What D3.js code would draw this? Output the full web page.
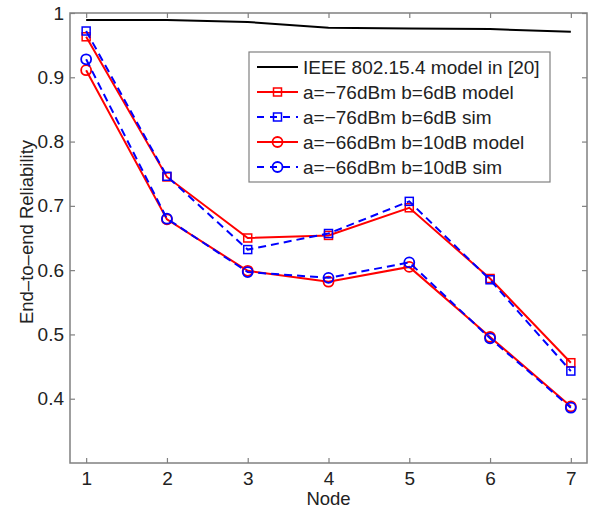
<!DOCTYPE html>
<html><head><meta charset="utf-8">
<script src="https://cdn.jsdelivr.net/npm/d3@7"></script>
<style>body{margin:0;background:#fff}svg{display:block}text{font-family:"Liberation Sans",Arial,Helvetica,sans-serif;fill:#222}</style>
</head><body>
<script>
const nodes = [1,2,3,4,5,6,7];
const ieee = [0.989,0.989,0.986,0.977,0.976,0.975,0.971];
const m76model = [0.963,0.745,0.650,0.654,0.697,0.587,0.456];
const m76sim   = [0.972,0.746,0.632,0.657,0.707,0.585,0.443];
const m66model = [0.911,0.679,0.599,0.582,0.605,0.496,0.388];
const m66sim   = [0.928,0.680,0.597,0.588,0.612,0.494,0.386];
const yTicks = [0.4,0.5,0.6,0.7,0.8,0.9,1];
const labels = ["IEEE 802.15.4 model in [20]","a=\u221276dBm b=6dB model","a=\u221276dBm b=6dB sim","a=\u221266dBm b=10dB model","a=\u221266dBm b=10dB sim"];

const series = [
  {vals: ieee, color:"#000", dash:null, marker:null},
  {vals: m76model, color:"#ff0000", dash:null, marker:"square"},
  {vals: m76sim, color:"#0000ff", dash:"8,5", marker:"square"},
  {vals: m66model, color:"#ff0000", dash:null, marker:"circle"},
  {vals: m66sim, color:"#0000ff", dash:"8,5", marker:"circle"}
];

const W=590,H=510;
const L=70,R=587,T=13,B=463;
const svg=d3.select("body").append("svg").attr("width",W).attr("height",H);
const x=d3.scaleLinear().domain([0.8,7.2]).range([L,R]);
const y=d3.scaleLinear().domain([0.3,1]).range([B,T]);
const ax="#808080";

svg.append("rect").attr("x",L).attr("y",T).attr("width",R-L).attr("height",B-T).attr("fill","none").attr("stroke",ax).attr("stroke-width",1.5);

const gb=svg.append("g").attr("transform",`translate(0,${B})`).call(d3.axisBottom(x).tickValues(nodes).tickFormat(d3.format("d")).tickSizeInner(-5).tickSizeOuter(0).tickPadding(9));
const gl=svg.append("g").attr("transform",`translate(${L},0)`).call(d3.axisLeft(y).tickValues(yTicks).tickFormat(d=>d===1?"1":d3.format(".1f")(d)).tickSizeInner(-5).tickSizeOuter(0).tickPadding(6));
const gt=svg.append("g").attr("transform",`translate(0,${T})`).call(d3.axisTop(x).tickValues(nodes).tickFormat("").tickSizeInner(-5).tickSizeOuter(0));
const gr=svg.append("g").attr("transform",`translate(${R},0)`).call(d3.axisRight(y).tickValues(yTicks).tickFormat("").tickSizeInner(-5).tickSizeOuter(0));
[gb,gl,gt,gr].forEach(g=>{g.select(".domain").remove();g.selectAll("line").attr("stroke",ax).attr("stroke-width",1.2);g.selectAll("text").attr("font-size",19).attr("fill","#222").attr("font-family","Liberation Sans,Arial,sans-serif");});

svg.append("text").attr("x",(L+R)/2).attr("y",505).attr("text-anchor","middle").attr("font-size",18.5).text("Node");
svg.append("text").attr("transform",`translate(33,232) rotate(-90)`).attr("text-anchor","middle").attr("font-size",18.5).text("End\u2013to\u2013end Reliability");

const line=d3.line().x((d,i)=>x(nodes[i])).y(d=>y(d));
function drawMarker(g,type,cx,cy,color){
  if(type==="square") g.append("rect").attr("x",cx-4).attr("y",cy-4).attr("width",8).attr("height",8).attr("fill","none").attr("stroke",color).attr("stroke-width",1.5);
  else if(type==="circle") g.append("circle").attr("cx",cx).attr("cy",cy).attr("r",5).attr("fill","none").attr("stroke",color).attr("stroke-width",1.8);
}
series.forEach(s=>{
  const g=svg.append("g");
  g.append("path").attr("d",line(s.vals)).attr("fill","none").attr("stroke",s.color).attr("stroke-width",2).attr("stroke-dasharray",s.dash);
  if(s.marker) s.vals.forEach((v,i)=>drawMarker(g,s.marker,x(nodes[i]),y(v),s.color));
});

const lg=svg.append("g");
lg.append("rect").attr("x",249).attr("y",52).attr("width",301).attr("height",130).attr("fill","#fff").attr("stroke",ax).attr("stroke-width",1.2);
series.forEach((s,i)=>{
  const ly=67+i*25;
  lg.append("line").attr("x1",257).attr("x2",298).attr("y1",ly).attr("y2",ly).attr("stroke",s.color).attr("stroke-width",2).attr("stroke-dasharray",s.dash?"7,6":null);
  if(s.marker) drawMarker(lg,s.marker,277.5,ly,s.color);
  lg.append("text").attr("x",303).attr("y",ly+7).attr("font-size",19).text(labels[i]);
});
</script>
</body></html>
